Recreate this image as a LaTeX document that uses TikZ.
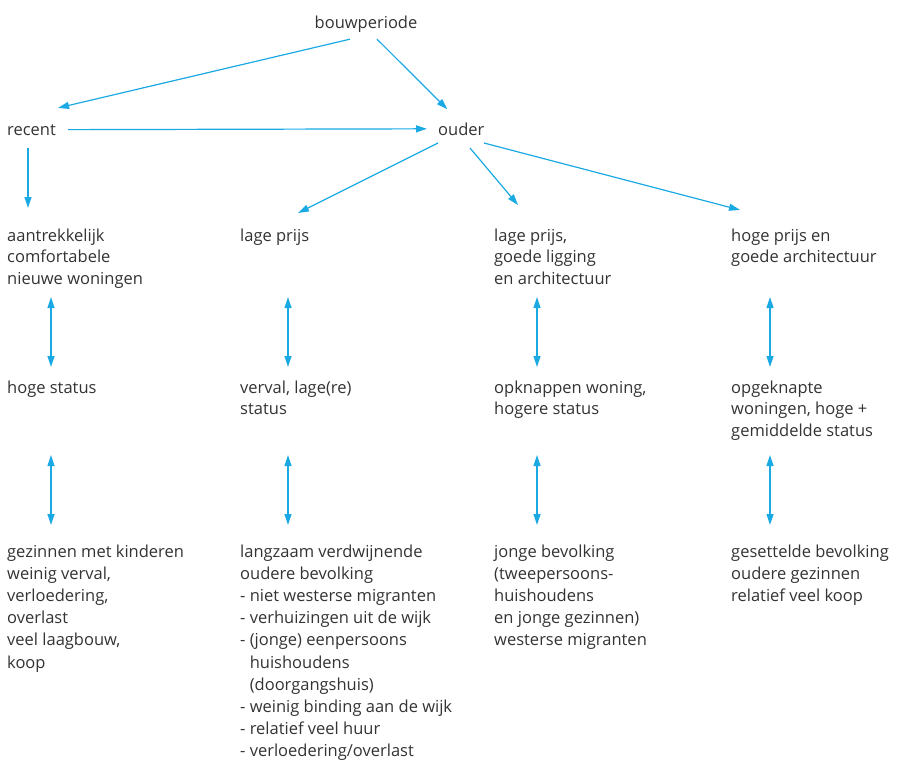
\documentclass[tikz,border=0pt]{standalone}
\usepackage{fontspec}
\setmainfont{Open Sans}
\usetikzlibrary{arrows.meta,positioning}
\definecolor{lijn}{HTML}{1AA9E3}
\definecolor{tekst}{HTML}{333333}

\begin{document}
\begin{tikzpicture}[x=1pt,y=-1pt,font=\fontsize{16.5}{21.6}\selectfont,
  txt/.style={anchor=base west,align=left,inner sep=0pt,text=tekst},
  lang/.style={txt,font=\fontsize{16.5}{22.2}\selectfont},
  pijl/.style={-{Triangle[length=11pt,width=7pt]},draw=lijn,line width=1.2pt},
  dpijl/.style={{Triangle[length=11pt,width=7pt]}-{Triangle[length=11pt,width=7pt]},draw=lijn,line width=1.2pt}]
\useasboundingbox (0,0) rectangle (904,780);
% kop (base = laatste regel)
\node[txt,anchor=base] (bouw) at (366,28) {bouwperiode};
\node[txt] (recent) at (7,135) {recent};
\node[txt] (ouder) at (438,135) {ouder};
% rij 1
\node[txt] (a1) at (7,284.2) {aantrekkelijk\\comfortabele\\nieuwe woningen};
\node[txt] (a2) at (240,241) {lage prijs};
\node[txt] (a3) at (494,284.2) {lage prijs,\\goede ligging\\en architectuur};
\node[txt] (a4) at (731,262.6) {hoge prijs en\\goede architectuur};
% rij 2
\node[txt] (s1) at (7,393) {hoge status};
\node[txt] (s2) at (240,414.6) {verval, lage(re)\\status};
\node[txt] (s3) at (494,414.6) {opknappen woning,\\hogere status};
\node[txt] (s4) at (731,436.2) {opgeknapte\\woningen, hoge +\\gemiddelde status};
% rij 3
\node[lang] (b1) at (7,668) {gezinnen met kinderen\\weinig verval,\\verloedering,\\overlast\\veel laagbouw,\\koop};
\node[lang] (b2) at (240,756.8) {langzaam verdwijnende\\oudere bevolking\\- niet westerse migranten\\- verhuizingen uit de wijk\\- (jonge) eenpersoons\\\phantom{- }huishoudens\\\phantom{- }(doorgangshuis)\\- weinig binding aan de wijk\\- relatief veel huur\\- verloedering/overlast};
\node[lang] (b3) at (494,645.8) {jonge bevolking\\(tweepersoons-\\huishoudens\\en jonge gezinnen)\\westerse migranten};
\node[lang] (b4) at (731,601.4) {gesettelde bevolking\\oudere gezinnen\\relatief veel koop};

\draw[pijl] ([xshift=-16pt,yshift=-7pt]bouw.south) -- ([xshift=26.5pt,yshift=16pt]recent.north);
\draw[pijl] ([xshift=11pt,yshift=-7pt]bouw.south) -- ([xshift=-14pt,yshift=13pt]ouder.north);
\draw[pijl] ([xshift=12pt]recent.east) -- ([xshift=-11pt]ouder.west);
\draw[pijl] ([xshift=21pt,yshift=-13pt]recent.base west) -- ([xshift=21pt,yshift=76.2pt]a1.base west);
\draw[pijl] ([yshift=-8pt]ouder.base west) -- ([xshift=58pt,yshift=28pt]a2.base west);
\draw[pijl] ([xshift=32pt,yshift=-13pt]ouder.base west) -- ([xshift=24pt,yshift=79.2pt]a3.base west);
\draw[pijl] ([xshift=46pt,yshift=-8pt]ouder.base west) -- ([xshift=9pt,yshift=52.6pt]a4.base west);
% dubbele pijlen
\foreach \a/\b/\dx/\ya/\yb in {a1/s1/44/-12.8/26, a2/s2/48/-56/47.6, a3/s3/43/-12.8/47.6, a4/s4/39/-34.4/69.2,
    s1/b1/44/-62/143, s2/b2/48/-40.4/231.8, s3/b3/43/-40.4/120.8, s4/b4/39/-18.8/76.4}
  \draw[dpijl] ([xshift=\dx pt,yshift=\ya pt]\a.base west) -- ([xshift=\dx pt,yshift=\yb pt]\b.base west);
\end{tikzpicture}
\end{document}
